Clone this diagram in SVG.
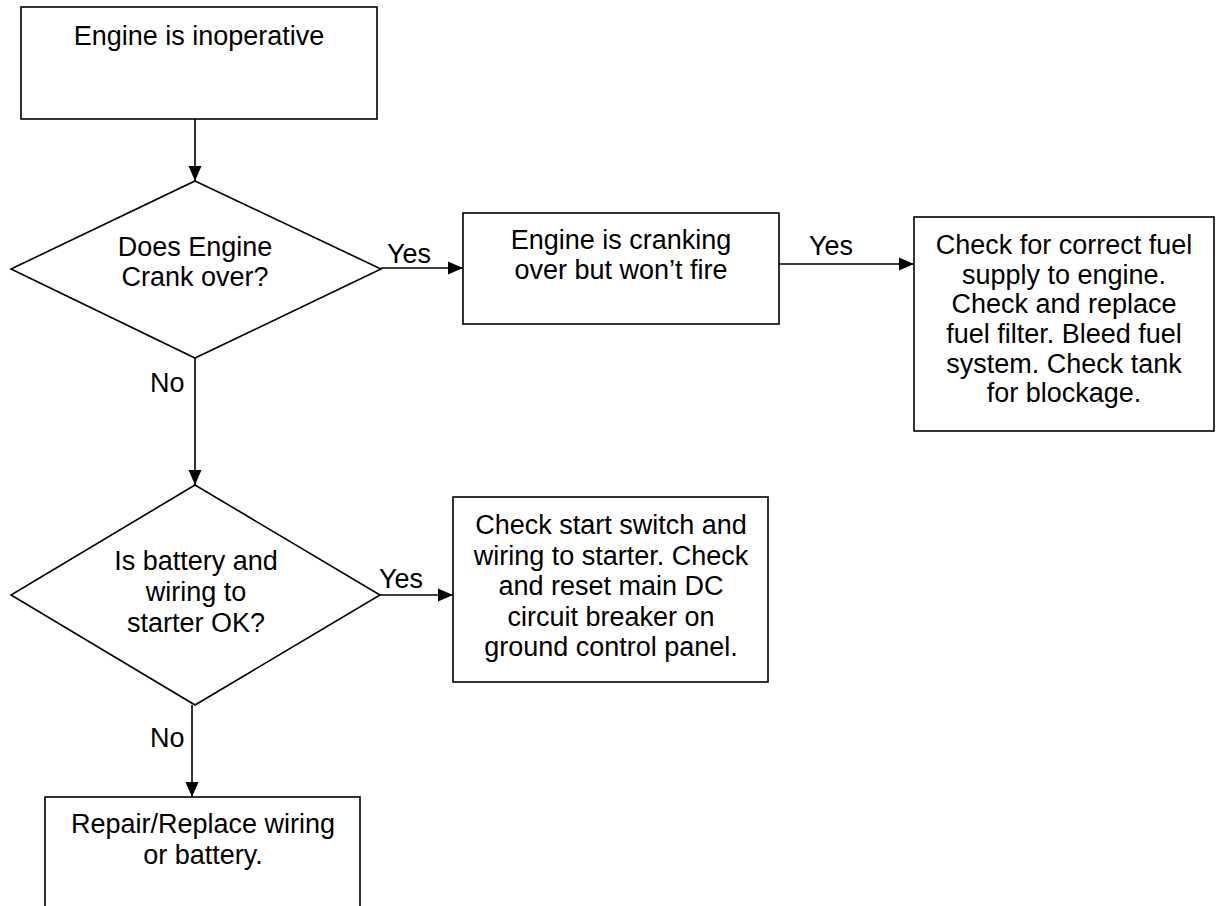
<svg xmlns="http://www.w3.org/2000/svg" width="1216" height="906" viewBox="0 0 1216 906">
<style>
.box{fill:#fff;stroke:#000;stroke-width:1.6}
.t{font-family:"Liberation Sans",Arial,sans-serif;font-size:27px;fill:#000;text-anchor:middle}
.l{font-family:"Liberation Sans",Arial,sans-serif;font-size:27px;fill:#000}
.c{fill:none;stroke:#000;stroke-width:1.6}
</style>
<defs>
<marker id="ah" markerUnits="userSpaceOnUse" markerWidth="16" markerHeight="16" refX="15" refY="8" orient="auto">
<path d="M0,1.5 L15,8 L0,14.5 z" fill="#000"/>
</marker>
</defs>
<rect width="1216" height="906" fill="#fff"/>
<g id="connectors">
<line class="c" x1="195" y1="119" x2="195" y2="181" marker-end="url(#ah)"/>
<line class="c" x1="381" y1="268" x2="463" y2="268" marker-end="url(#ah)"/>
<text class="l" x="387" y="263">Yes</text>
<line class="c" x1="779" y1="264" x2="914" y2="264" marker-end="url(#ah)"/>
<text class="l" x="809" y="255">Yes</text>
<line class="c" x1="195" y1="358" x2="195" y2="485" marker-end="url(#ah)"/>
<text class="l" x="150" y="392">No</text>
<line class="c" x1="380" y1="595" x2="453" y2="595" marker-end="url(#ah)"/>
<text class="l" x="379" y="588">Yes</text>
<line class="c" x1="192" y1="705" x2="192" y2="797" marker-end="url(#ah)"/>
<text class="l" x="150" y="747">No</text>
</g>
<g id="n1">
<rect class="box" x="21" y="7" width="356" height="112"/>
<text class="t" x="199" y="45">Engine is inoperative</text>
</g>
<g id="d1">
<polygon class="box" points="195,181 381,269 195,358 11,269"/>
<text class="t" x="195" y="256">Does Engine</text>
<text class="t" x="195" y="286">Crank over?</text>
</g>
<g id="n2">
<rect class="box" x="463" y="213" width="316" height="111"/>
<text class="t" x="621" y="249">Engine is cranking</text>
<text class="t" x="621" y="279">over but won’t fire</text>
</g>
<g id="n3">
<rect class="box" x="914" y="217" width="300" height="214"/>
<text class="t" x="1064" y="254">Check for correct fuel</text>
<text class="t" x="1064" y="284">supply to engine.</text>
<text class="t" x="1064" y="313">Check and replace</text>
<text class="t" x="1064" y="343">fuel filter. Bleed fuel</text>
<text class="t" x="1064" y="373">system. Check tank</text>
<text class="t" x="1064" y="402">for blockage.</text>
</g>
<g id="d2">
<polygon class="box" points="195,485 380,595 195,705 11,595"/>
<text class="t" x="196" y="570">Is battery and</text>
<text class="t" x="196" y="601">wiring to</text>
<text class="t" x="196" y="632">starter OK?</text>
</g>
<g id="n4">
<rect class="box" x="453" y="497" width="315" height="185"/>
<text class="t" x="611" y="534">Check start switch and</text>
<text class="t" x="611" y="565">wiring to starter. Check</text>
<text class="t" x="611" y="595">and reset main DC</text>
<text class="t" x="611" y="626">circuit breaker on</text>
<text class="t" x="611" y="656">ground control panel.</text>
</g>
<g id="n5">
<rect class="box" x="45" y="797" width="315" height="130"/>
<text class="t" x="203" y="833">Repair/Replace wiring</text>
<text class="t" x="203" y="864">or battery.</text>
</g>
</svg>
